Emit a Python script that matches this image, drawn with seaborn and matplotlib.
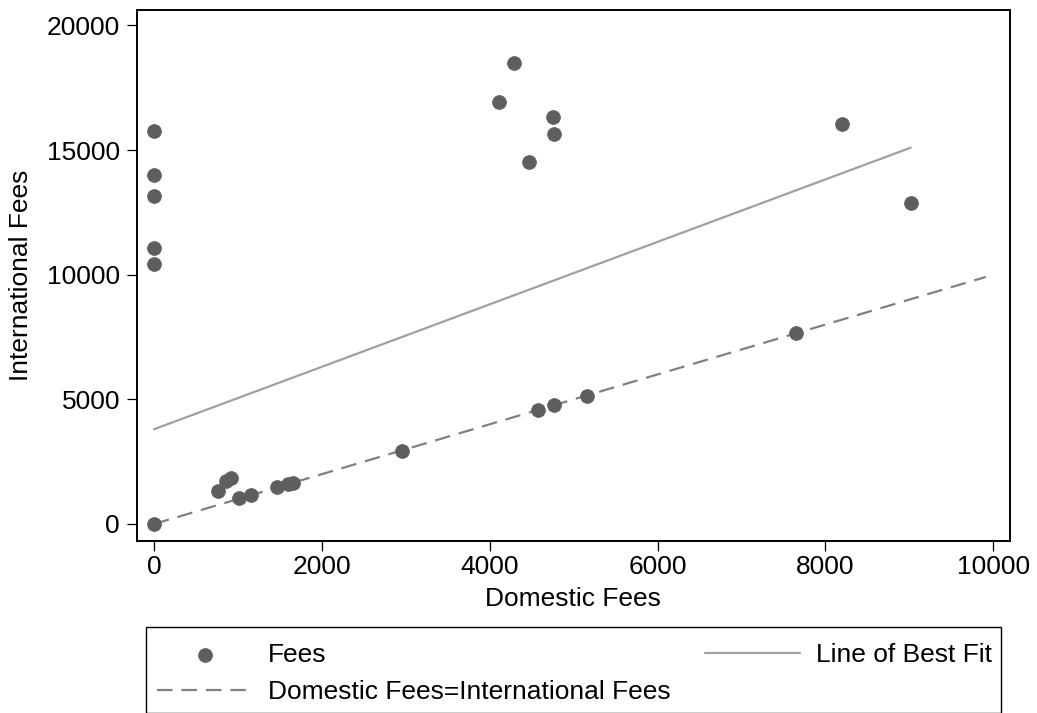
import matplotlib
matplotlib.use("Agg")
import matplotlib.pyplot as plt
from matplotlib.patches import Rectangle
import numpy as np
import pandas as pd
import seaborn as sns

# Fee data per institution
domestic_fees = [0, 0, 0, 0, 0, 0,
                 4110, 4293, 4758, 4763, 4472,
                 8201, 9016, 7649,
                 4579, 4770, 5155, 2955,
                 763, 858, 917, 1013, 1156, 1466, 1597, 1656]
international_fees = [15764, 14000, 13157, 11071, 10441, 0,
                      16940, 18504, 16314, 15656, 14533,
                      16045, 12864, 7649,
                      4573, 4773, 5134, 2928,
                      1324, 1725, 1845, 1043, 1163, 1484, 1604, 1645]

# Fitted regression line (intercept, slope)
fit_intercept = 3800
fit_slope = 1.2528

# Extent of the equality reference line
equality_range = [0, 9910]

x_ticks = [0, 2000, 4000, 6000, 8000, 10000]
y_ticks = [0, 5000, 10000, 15000, 20000]

sns.set_theme(style="white")
plt.rcParams["font.family"] = ["Liberation Sans", "DejaVu Sans"]
plt.rcParams["text.color"] = "black"
plt.rcParams["axes.labelcolor"] = "black"
FS = 19

W, H = 1037, 713
fig = plt.figure(figsize=(W / 100, H / 100), dpi=100)
ax = fig.add_axes([136.7 / W, 1 - 540.7 / H,
                   (1010 - 136.7) / W, (540.7 - 10) / H])

df = pd.DataFrame({"Domestic Fees": domestic_fees,
                   "International Fees": international_fees})

fit_x = np.array([min(domestic_fees), max(domestic_fees)], dtype=float)
fit_df = pd.DataFrame({"x": fit_x, "y": fit_intercept + fit_slope * fit_x})
eq_df = pd.DataFrame({"x": equality_range, "y": equality_range})

sns.lineplot(data=fit_df, x="x", y="y", ax=ax, color="#a0a0a0",
             linewidth=1.6, label="Line of Best Fit", zorder=2)
sns.lineplot(data=eq_df, x="x", y="y", ax=ax, color="#808080",
             linewidth=1.6, label="Domestic Fees=International Fees", zorder=2)
ax.lines[-1].set_dashes((7, 4))
sns.scatterplot(data=df, x="Domestic Fees", y="International Fees", ax=ax,
                color="#5e5e5e", edgecolor="#5e5e5e", linewidth=0.5,
                s=100, label="Fees", zorder=3)

ax.set_xlim(-206, 10199)
ax.set_ylim(-670, 20618)
ax.set_xticks(x_ticks)
ax.set_yticks(y_ticks)
ax.set_xticklabels([str(t) for t in x_ticks], fontsize=FS)
ax.set_yticklabels([str(t) for t in y_ticks], fontsize=FS)
ax.set_xlabel("Domestic Fees", fontsize=FS, labelpad=6, color="black")
ax.set_ylabel("International Fees", fontsize=FS, labelpad=10, color="black")

for sp in ax.spines.values():
    sp.set_visible(True)
    sp.set_color("black")
    sp.set_linewidth(1.4)
ax.tick_params(axis="both", which="major", direction="out", length=7,
               width=0.9, color="black", labelcolor="black",
               bottom=True, left=True)
ax.tick_params(axis="x", pad=3)
ax.tick_params(axis="y", pad=5)
ax.grid(False)

handles, labels = ax.get_legend_handles_labels()
order = {lab: h for h, lab in zip(handles, labels)}
ax.get_legend().remove()
leg_labels = ["Fees", "Domestic Fees=International Fees", "Line of Best Fit"]

# Legend frame, running off the bottom edge of the figure
fig.patches.append(Rectangle((146 / W, 0), (1001 - 146) / W, 1 - 627.3 / H,
                             transform=fig.transFigure, fill=False,
                             edgecolor="black", linewidth=1.0))

leg = fig.legend([order[l] for l in leg_labels], leg_labels, ncol=2,
                 loc="upper left",
                 bbox_to_anchor=(157 / W, 1 - 643.1 / H,
                                 (992 - 157) / W, 0),
                 mode="expand", borderaxespad=0, fontsize=FS,
                 handlelength=3.6, handletextpad=0.62, borderpad=0.0,
                 labelspacing=0.5, columnspacing=1.0, frameon=False,
                 labelcolor="black")

fig.savefig("out.png", dpi=100, facecolor="white")
